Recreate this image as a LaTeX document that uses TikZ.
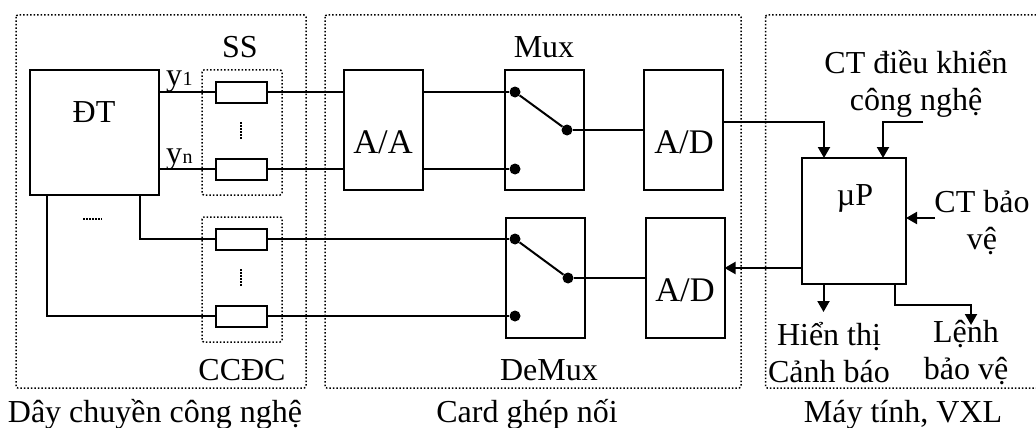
\documentclass[tikz,border=0pt]{standalone}
\usepackage{fontspec}
\setmainfont{Liberation Serif}
\usetikzlibrary{arrows.meta}
\tikzset{
  x=1pt,y=-1pt,
  wire/.style={line width=2pt,line cap=butt,line join=miter},
  arrowwire/.style={wire,-{Triangle[length=11pt,width=12pt]}},
  region/.style={draw,line width=1.5pt,dotted,rounded corners=2pt},
  block/.style={draw,line width=2pt,inner sep=0pt,outer sep=0pt,fill=white},
  sensor/.style={block,minimum width=51pt,minimum height=21pt},
  muxbox/.style={block,minimum width=79pt,minimum height=120pt},
  contact/.style={circle,fill=black,inner sep=0pt,minimum size=11pt},
  lbl/.style={inner sep=0pt,anchor=base,font=\fontsize{32}{37}\selectfont},
  biglbl/.style={lbl,font=\fontsize{34.5}{37}\selectfont},
  para/.style={inner sep=0pt,align=center,font=\fontsize{32}{37}\selectfont},
  sub/.style={inner sep=0pt,anchor=base west,font=\fontsize{20}{22}\selectfont},
  tiny dots/.style={line width=1.5pt,dash pattern=on 1.5pt off 1.5pt}
}
\begin{document}
\begin{tikzpicture}
\useasboundingbox (0,0) rectangle (1036,428);
% regions
\draw[region] (16,15) rectangle (306,388);
\draw[region] (325,15) rectangle (741,388);
\draw[region] (765.5,15) rectangle (1050,388);
\draw[region] (202,70) rectangle (282,195);
\draw[region] (202,217) rectangle (282,342);
% blocks
\node[block,minimum width=129pt,minimum height=125pt] (dt) at (94.5,132.5) {};
\node[sensor] (s1) at (241,92) {};
\node[sensor] (s2) at (241,169) {};
\node[sensor] (c1) at (241,239) {};
\node[sensor] (c2) at (241,316) {};
\node[muxbox] (aa) at (383,130) {};
\node[muxbox] (mux) at (544.5,130) {};
\node[muxbox] (ad1) at (683.5,130) {};
\node[muxbox] (demux) at (545.5,278) {};
\node[muxbox] (ad2) at (685,278) {};
\node[block,minimum width=104pt,minimum height=126pt] (up) at (854,221) {};
% contacts
\node[contact] (m1) at (515,92) {};
\node[contact] (m2) at (515,169) {};
\node[contact] (m3) at (567,130) {};
\node[contact] (d1) at (515,239) {};
\node[contact] (d2) at (515,316) {};
\node[contact] (d3) at (568,278) {};
% free ends
\coordinate (ctin) at (923,122);
\coordinate (prot) at (935,218);
\coordinate (disp) at (823.5,312);
\coordinate (cmd) at (971,325);
% wires
\draw[wire] (dt.east |- s1.west) -- (s1.west);
\draw[wire] (dt.east |- s2.west) -- (s2.west);
\draw[wire] (s1.east) -- (aa.west |- s1.east);
\draw[wire] (s2.east) -- (aa.west |- s2.east);
\draw[wire] (aa.east |- m1) -- (m1);
\draw[wire] (aa.east |- m2) -- (m2);
\draw[wire] (m1) -- (m3);
\draw[wire] (m3) -- (ad1.west |- m3);
\draw[wire] (dt.south -| 140,0) |- (c1.west);
\draw[wire] (dt.south -| 47,0) |- (c2.west);
\draw[wire] (c1.east) -- (d1);
\draw[wire] (c2.east) -- (d2);
\draw[wire] (d1) -- (d3);
\draw[wire] (d3) -- (ad2.west |- d3);
\draw[arrowwire] (ad1.east |- 0,122) -| (824,158);
\draw[arrowwire] (ctin) -| (883,158);
\draw[arrowwire] (prot) -- (up.east |- prot);
\draw[arrowwire] (up.west |- 0,268) -- (ad2.east |- 0,268);
\draw[arrowwire] (up.south -| disp) -- (disp);
\draw[arrowwire] (up.south -| 895,0) -- (895,305) -| (cmd);
% ellipses
\draw[tiny dots] (241,122) -- (241,139);
\draw[tiny dots] (241,269) -- (241,286);
\draw[tiny dots] (83,219) -- (102,219);
% labels
\node[lbl] at (94,122) {ĐT};
\node[lbl] at (240,58) {SS};
\node[lbl] at (242,380) {CCĐC};
\node[lbl] at (544,58) {Mux};
\node[lbl] at (549,380) {DeMux};
\node[biglbl] at (383,153) {A/A};
\node[biglbl] at (684,153) {A/D};
\node[biglbl] at (685,301) {A/D};
\node[lbl] at (855,205) {µP};
\node[lbl,anchor=base west] (y1) at (166,85) {y};
\node[sub] at (y1.base east) {1};
\node[lbl,anchor=base west] (yn) at (166,163) {y};
\node[sub] at (yn.base east) {n};
\node[para] at (916,84) {CT điều khiển\\công nghệ};
\node[para] at (982,223) {CT bảo\\vệ};
\node[para] at (829,353) {Hiển thị\\Cảnh báo};
\node[para] at (966,353) {Lệnh\\bảo vệ};
\node[lbl] at (155,422) {Dây chuyền công nghệ};
\node[lbl] at (527,422) {Card ghép nối};
\node[lbl] at (903,422) {Máy tính, VXL};
\end{tikzpicture}
\end{document}
